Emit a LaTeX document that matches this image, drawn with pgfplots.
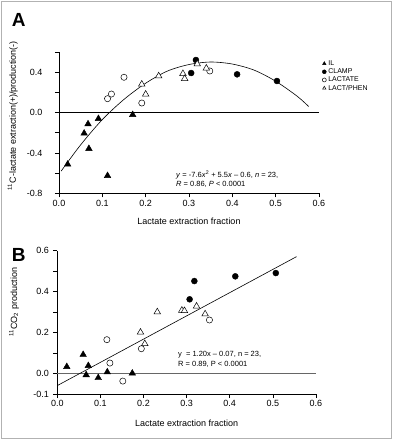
\documentclass[border=0pt]{standalone}
\usepackage{pgfplots}
\pgfplotsset{compat=1.18}
\usepackage{fontspec}
\setmainfont{Liberation Sans}
\begin{document}
\begin{tikzpicture}
\path (0pt,0pt) rectangle (394pt,-440pt);
\draw[black!30, line width=1pt] (1pt,-1pt) rectangle (391pt,-438.5pt);
\node[anchor=west, font=\bfseries\fontsize{19}{19}\selectfont, inner sep=0] at (11.7pt,-20pt) {A};
\node[anchor=west, font=\bfseries\fontsize{19}{19}\selectfont, inner sep=0] at (11.7pt,-255pt) {B};
\pgfplotsset{
  every axis/.append style={
    scale only axis,
    axis x line*=bottom, axis y line*=left,
    axis line style={black, line width=0.6pt},
    tick style={black, line width=0.6pt},
    tick align=outside, major tick length=4pt,
    xmin=0, xmax=0.6,
    xtick={0,0.1,0.2,0.3,0.4,0.5,0.6},
    xticklabels={0.0,0.1,0.2,0.3,0.4,0.5,0.6},
    tick label style={font=\fontsize{9}{10}\selectfont},
    label style={font=\fontsize{9}{10}\selectfont},
    xlabel={Lactate extraction fraction},
  },
  ILs/.style={only marks, mark=triangle*, mark size=3.8pt, mark options={fill=black, draw=black}},
  CLs/.style={only marks, mark=*, mark size=3pt, mark options={fill=black, draw=black}},
  LAs/.style={only marks, mark=*, mark size=3.1pt, mark options={fill=white, draw=black, line width=0.5pt}},
  LPs/.style={only marks, mark=triangle*, mark size=3.8pt, mark options={fill=white, draw=black, line width=0.5pt}},
}
% Panel A
\begin{axis}[
  at={(59pt,-193.3pt)}, anchor=south west,
  width=260pt, height=141.4pt,
  ymin=-0.8, ymax=0.6,
  ytick={-0.8,-0.6,-0.4,-0.2,0,0.2,0.4,0.6},
  yticklabels={-0.8,,-0.4,,0.0,,0.4,},
  yticklabel style={xshift=-9pt},
  xticklabel style={yshift=1pt},
  ylabel={\textsuperscript{11}C-lactate extraction(+)/production(-)},
  ylabel style={at={(rel axis cs:-0.178,0.549)}, anchor=center},
  xlabel style={at={(rel axis cs:0.5,-0.196)}, anchor=center},
  legend style={draw=none, fill=none, at={(rel axis cs:1.012,0.955)}, anchor=north west,
    font=\fontsize{7}{8}\selectfont, inner sep=0pt, row sep=-2.2pt,
    /tikz/every even column/.append style={column sep=0pt}},
  legend cell align=left,
  legend image code/.code={\draw[#1, mark size=2pt] plot coordinates {(0.1cm,0cm)};},
  clip=false,
]
\addplot[black, line width=0.6pt, forget plot] coordinates {(0,0) (0.6,0)};
\addplot[black, line width=0.6pt, smooth, forget plot] coordinates {
 (0.005,-0.58) (0.05,-0.32) (0.10,-0.07) (0.15,0.13) (0.20,0.29) (0.25,0.41)
 (0.30,0.475) (0.35,0.50) (0.40,0.48) (0.45,0.42) (0.50,0.31) (0.55,0.16) (0.576,0.06)};
\addplot[ILs] coordinates {
 (0.020,-0.513) (0.058,-0.206) (0.067,-0.114) (0.069,-0.358) (0.091,-0.061) (0.112,-0.626) (0.170,-0.022)};
\addlegendentry{IL}
\addplot[CLs] coordinates {
 (0.316,0.52) (0.305,0.391) (0.411,0.378) (0.503,0.312)};
\addlegendentry{CLAMP}
\addplot[LAs] coordinates {
 (0.112,0.137) (0.121,0.183) (0.150,0.349) (0.191,0.094) (0.348,0.411)};
\addlegendentry{LACTATE}
\addplot[LPs] coordinates {
 (0.191,0.279) (0.200,0.180) (0.230,0.361) (0.286,0.384) (0.290,0.335) (0.319,0.480) (0.340,0.438)};
\addlegendentry{LACT/PHEN}
\node[anchor=north west, align=left, inner sep=0, font=\fontsize{7.5}{8.4}\selectfont]
  at (axis cs:0.270,-0.58) {\textit{y} = -7.6\textit{x}\textsuperscript{2} + 5.5\textit{x} – 0.6, \textit{n} = 23,\\\textit{R} = 0.86, \textit{P} < 0.0001};
\end{axis}
% Panel B
\begin{axis}[
  at={(57.3pt,-394.2pt)}, anchor=south west,
  width=258.6pt, height=143.5pt,
  ymin=-0.1, ymax=0.6,
  ytick={-0.1,0,0.1,0.2,0.3,0.4,0.5,0.6},
  yticklabels={-0.1,0.0,,0.2,,0.4,,0.6},
  yticklabel style={xshift=-1pt},
  xticklabel style={yshift=1.5pt},
  ylabel={\textsuperscript{11}CO\textsubscript{2} production},
  ylabel style={at={(rel axis cs:-0.167,0.642)}, anchor=center},
  xlabel style={at={(rel axis cs:0.5,-0.203)}, anchor=center},
  clip=false,
]
\addplot[black!60, line width=1.1pt] coordinates {(0,0) (0.6,0)};
\addplot[black, line width=0.6pt] coordinates {(0,-0.058) (0.555,0.571)};
\addplot[ILs] coordinates {
 (0.022,0.034) (0.060,0.093) (0.072,0.039) (0.067,-0.006) (0.095,-0.02) (0.116,0.008) (0.174,0.002)};
\addplot[CLs] coordinates {
 (0.307,0.363) (0.318,0.452) (0.413,0.475) (0.507,0.491)};
\addplot[LAs] coordinates {
 (0.115,0.166) (0.122,0.052) (0.152,-0.036) (0.195,0.122) (0.353,0.262)};
\addplot[LPs] coordinates {
 (0.193,0.202) (0.203,0.146) (0.232,0.301) (0.289,0.309) (0.295,0.307) (0.323,0.329) (0.343,0.291)};
\node[anchor=north west, align=left, inner sep=0, font=\fontsize{7.5}{9.5}\selectfont]
  at (axis cs:0.280,0.11) {y\ \ = 1.20x – 0.07, n = 23,\\R = 0.89, P < 0.0001};
\end{axis}
\end{tikzpicture}
\end{document}
